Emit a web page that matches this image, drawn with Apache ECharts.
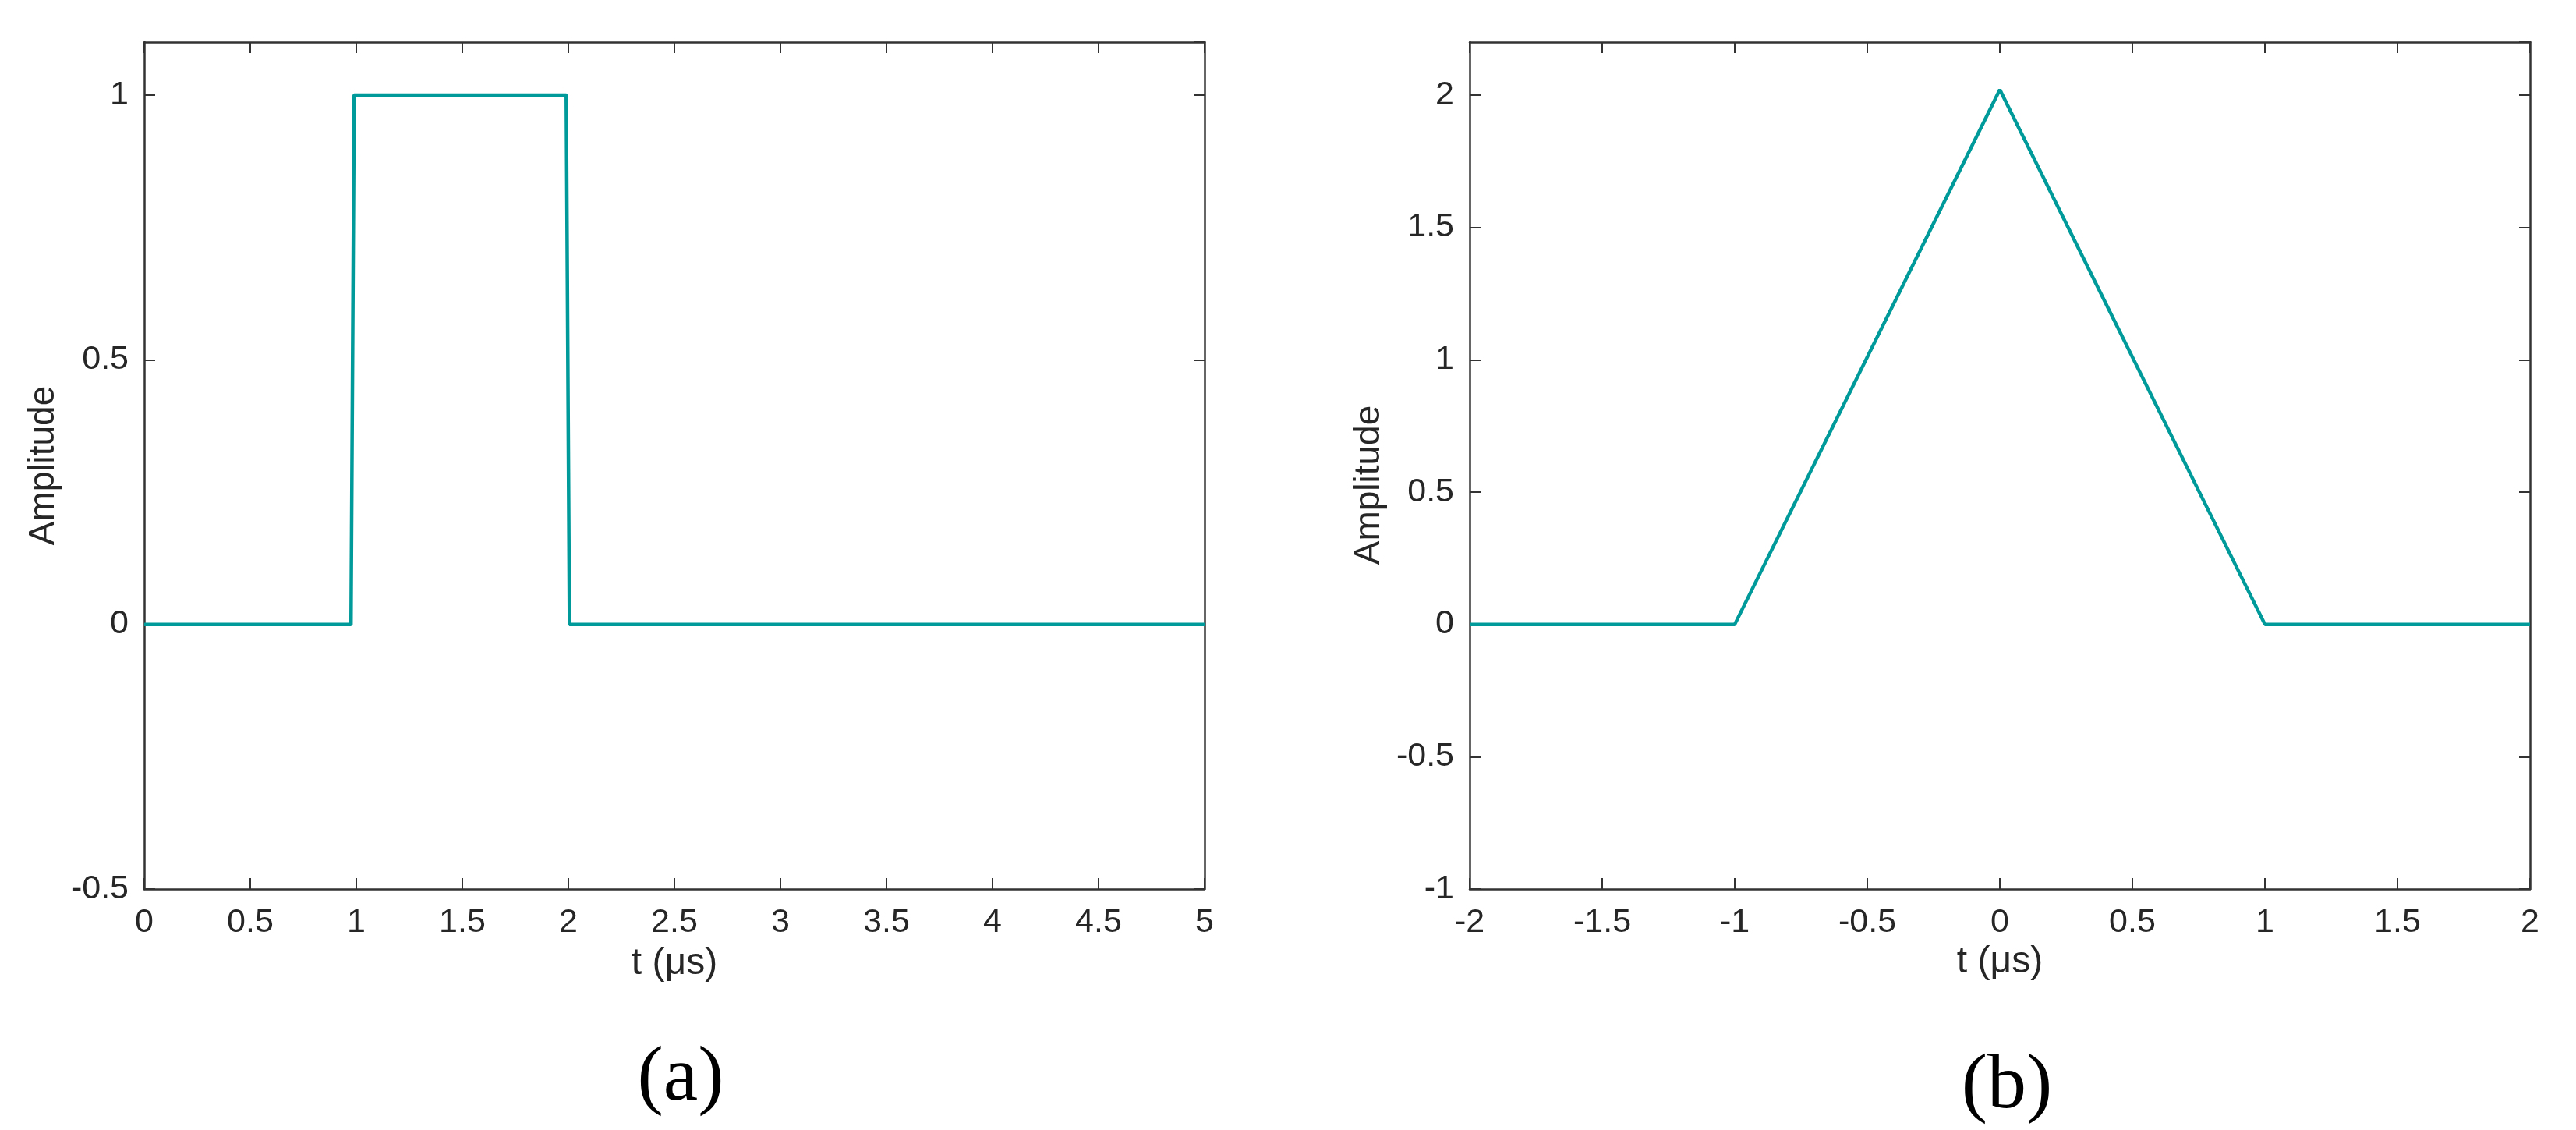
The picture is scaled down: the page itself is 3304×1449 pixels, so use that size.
<!DOCTYPE html>
<html>
<head>
<meta charset="utf-8">
<script src="https://cdn.jsdelivr.net/npm/echarts@6/dist/echarts.min.js"></script>
<style>
html,body{margin:0;padding:0;background:#fff;}
#c{width:3304px;height:1449px;}
</style>
</head>
<body>
<div id="c"></div>
<script>
// ---- data ----
var pulseT = [0, 0.975, 0.99, 1.99, 2.005, 5];
var pulseA = [0, 0, 1, 1, 0, 0];
var triT = [-2, -1, 0, 1, 2];
var triA = [0, 0, 2.02, 0, 0];
var xTicksA = [0, 0.5, 1, 1.5, 2, 2.5, 3, 3.5, 4, 4.5, 5];
var yTicksA = [-0.5, 0, 0.5, 1];
var xTicksB = [-2, -1.5, -1, -0.5, 0, 0.5, 1, 1.5, 2];
var yTicksB = [-1, -0.5, 0, 0.5, 1, 1.5, 2];
var xName = 't (\u03bcs)';
var yName = 'Amplitude';
var panelLabels = ['(a)', '(b)'];

function zip(a, b) { return a.map(function (v, i) { return [v, b[i]]; }); }

var lineColor = '#009a9a';
var axisColor = '#333333';
var textColor = '#262626';
var sans = '"Liberation Sans", Arial, sans-serif';

function xAxisDef(gi, ticks, pos, showLabel, nameGap) {
  var o = {
    type: 'value', gridIndex: gi, position: pos,
    min: ticks[0], max: ticks[ticks.length - 1], interval: 0.5,
    splitLine: { show: false },
    axisLine: { show: true, onZero: false, lineStyle: { color: axisColor, width: 2.5 } },
    axisTick: { show: true, inside: true, length: 14, lineStyle: { color: axisColor, width: 2 } },
    axisLabel: { show: showLabel, margin: 22, color: textColor, fontFamily: sans, fontSize: 43 }
  };
  if (showLabel) {
    o.name = xName; o.nameLocation = 'middle'; o.nameGap = nameGap;
    o.nameTextStyle = { color: textColor, fontFamily: sans, fontSize: 48 };
  }
  return o;
}
function yAxisDef(gi, min, max, pos, showLabel, nameGap, namePad) {
  var o = {
    type: 'value', gridIndex: gi, position: pos,
    min: min, max: max, interval: 0.5,
    splitLine: { show: false },
    axisLine: { show: true, onZero: false, lineStyle: { color: axisColor, width: 2.5 } },
    axisTick: { show: true, inside: true, length: 14, lineStyle: { color: axisColor, width: 2 } },
    axisLabel: {
      show: showLabel, margin: 20, color: textColor, fontFamily: sans, fontSize: 43,
      showMaxLabel: false
    }
  };
  if (showLabel) {
    o.name = yName; o.nameLocation = 'middle'; o.nameGap = nameGap;
    o.nameTextStyle = { color: textColor, fontFamily: sans, fontSize: 46, padding: namePad || 0 };
  }
  return o;
}

var chart = echarts.init(document.getElementById('c'), null, { renderer: 'canvas' });
chart.setOption({
  backgroundColor: '#ffffff',
  animation: false,
  grid: [
    { left: 185, top: 54, width: 1360, height: 1086 },
    { left: 1885, top: 54, width: 1360, height: 1086 }
  ],
  xAxis: [
    xAxisDef(0, xTicksA, 'bottom', true, 72),
    xAxisDef(0, xTicksA, 'top', false),
    xAxisDef(1, xTicksB, 'bottom', true, 52),
    xAxisDef(1, xTicksB, 'top', false)
  ],
  yAxis: [
    yAxisDef(0, yTicksA[0], 1.1, 'left', true, 106),
    yAxisDef(0, yTicksA[0], 1.1, 'right', false),
    yAxisDef(1, yTicksB[0], 2.2, 'left', true, 106, [0, 50, 0, 0]),
    yAxisDef(1, yTicksB[0], 2.2, 'right', false)
  ],
  series: [
    {
      type: 'line', xAxisIndex: 0, yAxisIndex: 0,
      data: zip(pulseT, pulseA), showSymbol: false, symbol: 'none',
      lineStyle: { color: lineColor, width: 4.5 }, clip: false
    },
    {
      type: 'line', xAxisIndex: 2, yAxisIndex: 2,
      data: zip(triT, triA), showSymbol: false, symbol: 'none',
      lineStyle: { color: lineColor, width: 4.5 }, clip: false
    }
  ],
  graphic: [
    { type: 'text', x: 873, y: 1384, style: { text: panelLabels[0], font: '100px "Liberation Serif", "Times New Roman", serif', fill: '#000', align: 'center', verticalAlign: 'middle' } },
    { type: 'text', x: 2574, y: 1394, style: { text: panelLabels[1], font: '100px "Liberation Serif", "Times New Roman", serif', fill: '#000', align: 'center', verticalAlign: 'middle' } }
  ]
});
</script>
</body>
</html>
